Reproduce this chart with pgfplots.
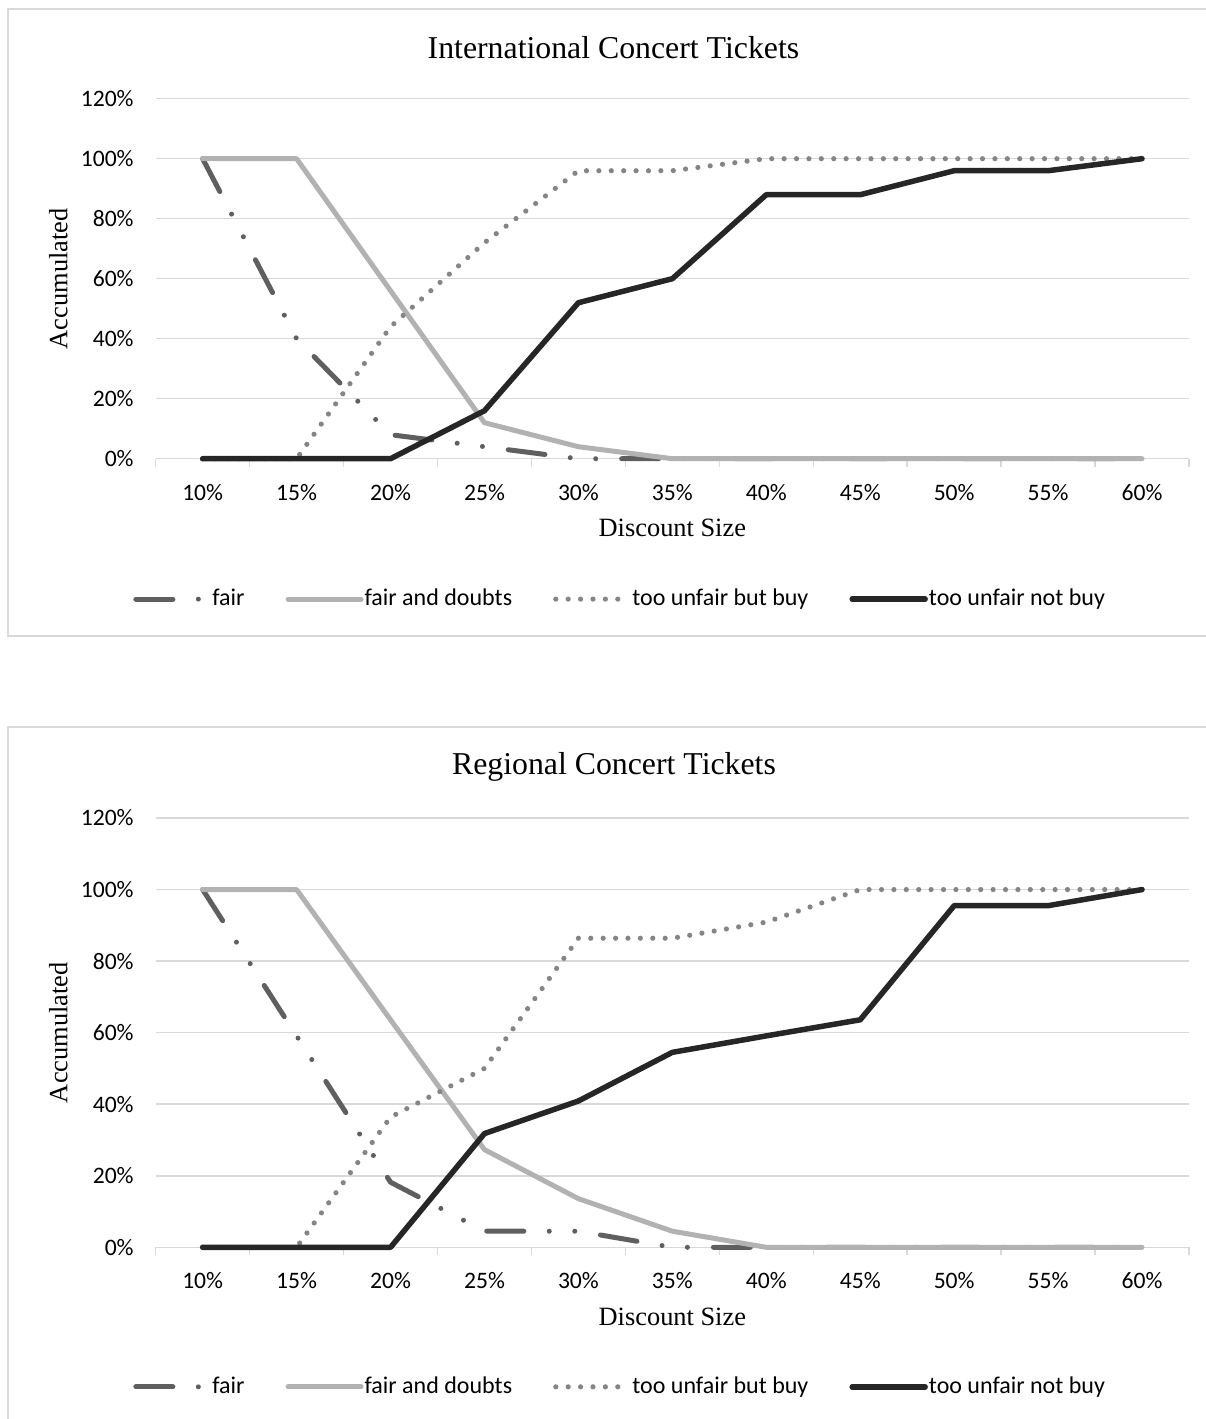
\documentclass[border=0pt]{standalone}
\usepackage{fontspec}
\setmainfont{Liberation Serif}
\newfontfamily\carlito{Carlito}
\usepackage{pgfplots}
\pgfplotsset{compat=1.18}
\definecolor{fairc}{HTML}{5F5F5F}
\definecolor{fadc}{HTML}{B2B2B2}
\definecolor{tubac}{HTML}{858585}
\definecolor{tunbc}{HTML}{262626}
\definecolor{gridc}{HTML}{D9D9D9}
\pgfplotsset{
  concert/.style={
    scale only axis, width=516.65pt,
    xmin=-0.5, xmax=10.5, ymin=0, ymax=120,
    xtick={0,...,10},
    xticklabels={10\%,15\%,20\%,25\%,30\%,35\%,40\%,45\%,50\%,55\%,60\%},
    minor xtick={-0.5,0.5,...,10.5},
    ytick={0,20,...,120},
    yticklabels={0\%,20\%,40\%,60\%,80\%,100\%,120\%},
    major tick length=0pt, minor tick length=4pt, tick align=outside,
    xtick pos=left, ytick pos=left,
    axis line style={draw=none},
    ymajorgrids, grid style={gridc, line width=0.75pt},
    minor tick style={gridc, line width=0.75pt},
    tick label style={font=\carlito\fontsize{11.8}{14}\selectfont, inner sep=0pt},
    xticklabel style={anchor=north, yshift=-12.5pt},
    yticklabel style={anchor=east, xshift=-10.85pt},
    xlabel={Discount Size}, ylabel={Accumulated},
    label style={font=\fontsize{13.2}{15}\selectfont},
    title style={font=\fontsize{15.9}{18}\selectfont, anchor=center, inner sep=0pt, yshift=-6pt},
    clip=false,
    legend columns=4,
    legend cell align=left,
    legend image code/.code={\draw[##1] (0pt,0pt) -- (36.5pt,0pt);},
    legend style={draw=none, fill=none, anchor=west,
      font=\carlito\fontsize{12}{14}\selectfont, inner sep=0pt,
      nodes={inner sep=0pt},
      /tikz/every odd column/.append style={column sep=0.5pt},
      /tikz/every even column/.append style={column sep=20.5pt}},
  },
  fairst/.style={fairc, line width=2.5pt, line cap=round, line join=round,
    dash pattern=on 18.5pt off 12.75pt on 0pt off 12.75pt on 0pt off 13pt},
  fadst/.style={fadc, line width=2.5pt, line cap=round, line join=round},
  tubast/.style={tubac, line width=2.6pt, line cap=round, dash pattern=on 0pt off 6.2pt},
  tunbst/.style={tunbc, line width=2.75pt, line cap=round, line join=round},
}
\begin{document}
\begin{tikzpicture}
\useasboundingbox (0,0) rectangle (602.5pt,-709.5pt);
\draw[gridc, line width=1pt] (4.15pt,-4.65pt) rectangle (610pt,-318pt);
\draw[gridc, line width=1pt] (4.15pt,-363.7pt) rectangle (610pt,-715pt);
\begin{axis}[concert, height=180pt, at={(77.85pt,-229.35pt)}, anchor=south west,
  title={International Concert Tickets},
  title style={at={(axis description cs:0.443,1.141)}},
  xlabel style={at={(axis description cs:0.5,-0.1925)}, anchor=center},
  ylabel style={at={(axis description cs:-0.0943,0.5)}, anchor=center},
  legend style={at={(axis description cs:-0.022,-0.39)}}]
\addplot[fairst] coordinates {(0,100) (1,40) (2,8) (3,4) (4,0) (5,0) (6,0) (7,0) (8,0) (9,0) (10,0)};
\addlegendentry{fair}
\addplot[fadst] coordinates {(0,100) (1,100) (2,56) (3,12) (4,4) (5,0) (6,0) (7,0) (8,0) (9,0) (10,0)};
\addlegendentry{fair and doubts}
\addplot[tubast] coordinates {(0,0) (1,0) (2,44) (3,72) (4,96) (5,96) (6,100) (7,100) (8,100) (9,100) (10,100)};
\addlegendentry{too unfair but buy}
\addplot[tunbst] coordinates {(0,0) (1,0) (2,0) (3,16) (4,52) (5,60) (6,88) (7,88) (8,96) (9,96) (10,100)};
\addlegendentry{too unfair not buy}
\end{axis}
\begin{axis}[concert, height=214.65pt, at={(77.85pt,-623.65pt)}, anchor=south west,
  title={Regional Concert Tickets},
  title style={at={(axis description cs:0.4435,1.119)}},
  xlabel style={at={(axis description cs:0.5,-0.162)}, anchor=center},
  ylabel style={at={(axis description cs:-0.0943,0.5)}, anchor=center},
  legend style={at={(axis description cs:-0.022,-0.325)}}]
\addplot[fairst] coordinates {(0,100) (1,59.1) (2,18.2) (3,4.5) (4,4.5) (5,0) (6,0) (7,0) (8,0) (9,0) (10,0)};
\addlegendentry{fair}
\addplot[fadst] coordinates {(0,100) (1,100) (2,63.6) (3,27.3) (4,13.6) (5,4.5) (6,0) (7,0) (8,0) (9,0) (10,0)};
\addlegendentry{fair and doubts}
\addplot[tubast] coordinates {(0,0) (1,0) (2,36.4) (3,50) (4,86.4) (5,86.4) (6,90.9) (7,100) (8,100) (9,100) (10,100)};
\addlegendentry{too unfair but buy}
\addplot[tunbst] coordinates {(0,0) (1,0) (2,0) (3,31.8) (4,40.9) (5,54.5) (6,59.1) (7,63.6) (8,95.5) (9,95.5) (10,100)};
\addlegendentry{too unfair not buy}
\end{axis}
\end{tikzpicture}
\end{document}
